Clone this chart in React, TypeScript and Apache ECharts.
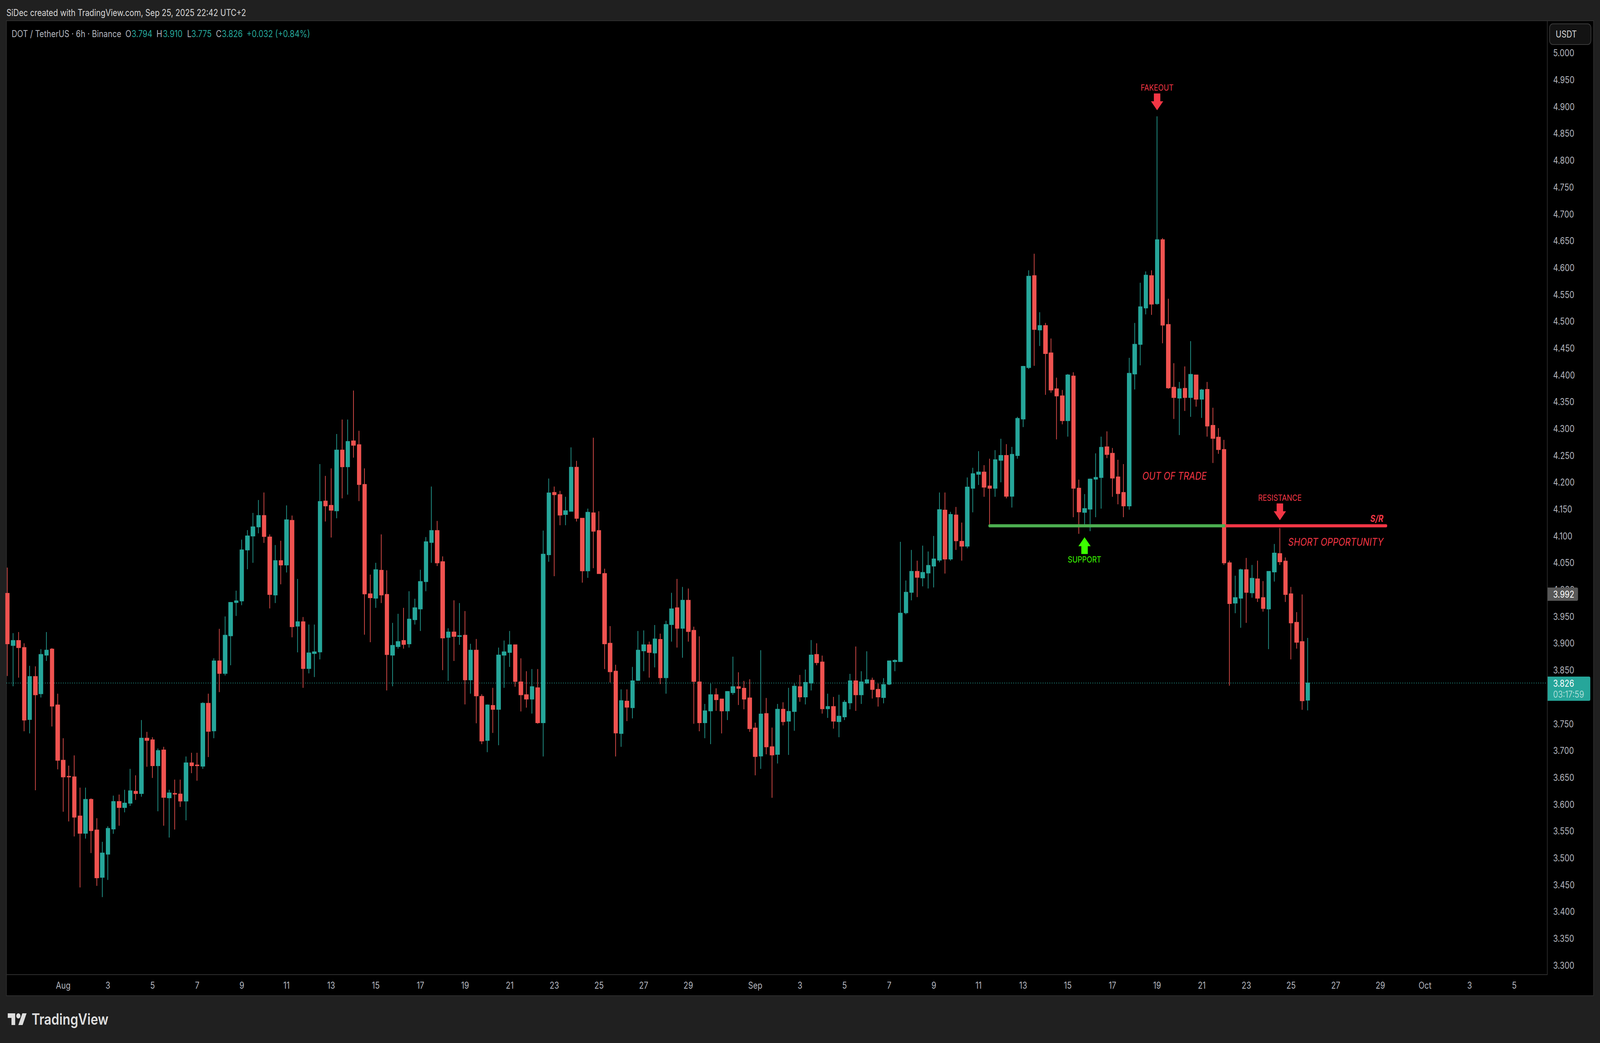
import { useEffect, useRef } from 'react';
import * as echarts from 'echarts';

const opens = [
  3.993, 3.896, 3.905, 3.892, 3.758, 3.838, 3.806, 3.878, 3.889, 3.785,
  3.682, 3.652, 3.651, 3.578, 3.546, 3.609, 3.552, 3.464, 3.507, 3.554,
  3.605, 3.594, 3.602, 3.624, 3.620, 3.723, 3.720, 3.672, 3.701, 3.612,
  3.620, 3.619, 3.606, 3.677, 3.673, 3.671, 3.788, 3.737, 3.867, 3.844,
  3.914, 3.976, 3.979, 4.074, 4.100, 4.117, 4.138, 4.098, 3.990, 4.054,
  4.046, 4.129, 3.932, 3.940, 3.853, 3.881, 3.884, 4.165, 4.157, 4.147,
  4.260, 4.229, 4.277, 4.270, 4.196, 3.992, 3.984, 4.036, 3.991, 3.878,
  3.894, 3.905, 3.899, 3.944, 3.964, 4.015, 4.088, 4.110, 4.052, 3.911,
  3.921, 3.913, 3.915, 3.832, 3.887, 3.801, 3.719, 3.784, 3.777, 3.878,
  3.883, 3.897, 3.828, 3.804, 3.796, 3.817, 3.752, 4.065, 4.181, 4.177,
  4.140, 4.146, 4.228, 4.133, 4.035, 4.143, 4.110, 4.030, 3.900, 3.848,
  3.732, 3.792, 3.780, 3.831, 3.886, 3.897, 3.882, 3.907, 3.836, 3.935,
  3.966, 3.928, 3.980, 3.924, 3.828, 3.752, 3.774, 3.804, 3.796, 3.774,
  3.808, 3.819, 3.816, 3.798, 3.742, 3.690, 3.769, 3.707, 3.693, 3.777,
  3.755, 3.773, 3.819, 3.800, 3.826, 3.879, 3.865, 3.778, 3.782, 3.754,
  3.763, 3.789, 3.830, 3.804, 3.826, 3.831, 3.814, 3.799, 3.824, 3.866,
  3.866, 3.957, 3.995, 4.034, 4.022, 4.031, 4.044, 4.055, 4.148, 4.057,
  4.139, 4.090, 4.081, 4.189, 4.215, 4.219, 4.193, 4.189, 4.241, 4.250,
  4.174, 4.250, 4.318, 4.414, 4.585, 4.484, 4.492, 4.441, 4.374, 4.361,
  4.315, 4.398, 4.189, 4.144, 4.150, 4.206, 4.209, 4.266, 4.254, 4.210,
  4.181, 4.156, 4.402, 4.457, 4.525, 4.585, 4.533, 4.652, 4.494, 4.377,
  4.357, 4.375, 4.358, 4.400, 4.355, 4.373, 4.306, 4.284, 4.261, 4.050,
  3.975, 3.984, 4.037, 3.994, 4.020, 3.985, 3.964, 4.033, 4.067, 4.053,
  3.992, 3.939, 3.903, 3.794,
];

const closes = [
  3.899, 3.905, 3.892, 3.757, 3.838, 3.804, 3.879, 3.887, 3.783, 3.682,
  3.651, 3.651, 3.576, 3.546, 3.609, 3.551, 3.463, 3.509, 3.555, 3.605,
  3.594, 3.602, 3.625, 3.620, 3.723, 3.719, 3.672, 3.700, 3.613, 3.621,
  3.619, 3.606, 3.677, 3.672, 3.672, 3.788, 3.736, 3.867, 3.844, 3.915,
  3.976, 3.979, 4.074, 4.100, 4.117, 4.138, 4.099, 3.991, 4.054, 4.046,
  4.130, 3.931, 3.940, 3.853, 3.882, 3.884, 4.164, 4.156, 4.148, 4.260,
  4.229, 4.276, 4.269, 4.196, 3.992, 3.985, 4.037, 3.990, 3.879, 3.896,
  3.903, 3.898, 3.945, 3.966, 4.015, 4.089, 4.110, 4.050, 3.910, 3.921,
  3.913, 3.914, 3.832, 3.887, 3.802, 3.718, 3.785, 3.777, 3.878, 3.884,
  3.897, 3.829, 3.804, 3.796, 3.819, 3.752, 4.066, 4.180, 4.177, 4.139,
  4.147, 4.228, 4.133, 4.035, 4.144, 4.109, 4.030, 3.899, 3.847, 3.733,
  3.793, 3.781, 3.830, 3.887, 3.897, 3.883, 3.908, 3.836, 3.935, 3.964,
  3.928, 3.980, 3.922, 3.829, 3.752, 3.774, 3.804, 3.795, 3.774, 3.810,
  3.819, 3.816, 3.796, 3.741, 3.689, 3.768, 3.707, 3.692, 3.777, 3.754,
  3.773, 3.820, 3.800, 3.827, 3.878, 3.864, 3.778, 3.782, 3.755, 3.764,
  3.790, 3.830, 3.804, 3.828, 3.832, 3.814, 3.800, 3.823, 3.867, 3.868,
  3.956, 3.995, 4.034, 4.023, 4.032, 4.045, 4.057, 4.149, 4.057, 4.140,
  4.091, 4.081, 4.191, 4.216, 4.219, 4.191, 4.189, 4.242, 4.250, 4.174,
  4.252, 4.319, 4.416, 4.584, 4.485, 4.492, 4.440, 4.372, 4.361, 4.315,
  4.400, 4.189, 4.145, 4.151, 4.206, 4.209, 4.265, 4.252, 4.208, 4.179,
  4.156, 4.403, 4.457, 4.527, 4.586, 4.532, 4.652, 4.493, 4.376, 4.358,
  4.374, 4.358, 4.401, 4.355, 4.372, 4.305, 4.282, 4.261, 4.050, 3.974,
  3.985, 4.037, 3.995, 4.021, 3.984, 3.965, 4.034, 4.068, 4.052, 3.991,
  3.938, 3.902, 3.793, 3.826,
];

const highs = [
  4.041, 3.919, 3.921, 3.900, 3.858, 3.857, 3.889, 3.921, 3.891, 3.806,
  3.723, 3.672, 3.691, 3.631, 3.631, 3.611, 3.574, 3.530, 3.559, 3.616,
  3.618, 3.627, 3.666, 3.654, 3.757, 3.735, 3.725, 3.704, 3.707, 3.627,
  3.646, 3.646, 3.689, 3.696, 3.696, 3.790, 3.806, 3.872, 3.927, 3.950,
  3.977, 3.998, 4.093, 4.111, 4.143, 4.167, 4.181, 4.103, 4.083, 4.091,
  4.157, 4.138, 4.020, 3.949, 3.935, 3.935, 4.234, 4.212, 4.226, 4.290,
  4.317, 4.317, 4.371, 4.296, 4.226, 4.028, 4.050, 4.103, 4.036, 3.938,
  3.955, 3.966, 3.997, 3.983, 4.037, 4.098, 4.192, 4.128, 4.062, 3.928,
  3.980, 3.975, 3.960, 3.899, 3.908, 3.805, 3.786, 3.817, 3.892, 3.905,
  3.923, 3.897, 3.872, 3.848, 3.852, 3.852, 4.110, 4.207, 4.192, 4.184,
  4.173, 4.265, 4.240, 4.133, 4.151, 4.283, 4.146, 4.039, 3.932, 3.860,
  3.814, 3.814, 3.856, 3.923, 3.924, 3.903, 3.934, 3.918, 3.942, 3.994,
  4.020, 4.005, 4.002, 3.931, 3.913, 3.787, 3.825, 3.816, 3.796, 3.811,
  3.875, 3.846, 3.830, 3.833, 3.752, 3.887, 3.798, 3.743, 3.787, 3.790,
  3.817, 3.825, 3.841, 3.851, 3.906, 3.900, 3.877, 3.806, 3.800, 3.804,
  3.794, 3.843, 3.894, 3.848, 3.885, 3.836, 3.825, 3.835, 3.868, 3.870,
  4.089, 4.017, 4.074, 4.054, 4.082, 4.071, 4.100, 4.181, 4.181, 4.145,
  4.154, 4.125, 4.209, 4.227, 4.258, 4.232, 4.244, 4.260, 4.281, 4.271,
  4.266, 4.322, 4.417, 4.595, 4.626, 4.517, 4.497, 4.468, 4.395, 4.372,
  4.402, 4.405, 4.205, 4.178, 4.207, 4.254, 4.285, 4.295, 4.264, 4.242,
  4.234, 4.432, 4.497, 4.572, 4.593, 4.595, 4.882, 4.655, 4.542, 4.422,
  4.387, 4.416, 4.463, 4.400, 4.374, 4.387, 4.339, 4.301, 4.279, 4.054,
  4.026, 4.039, 4.059, 4.046, 4.054, 4.016, 4.034, 4.085, 4.115, 4.060,
  4.005, 3.958, 3.991, 3.910,
];

const lows = [
  3.839, 3.820, 3.836, 3.736, 3.732, 3.626, 3.799, 3.867, 3.745, 3.665,
  3.586, 3.568, 3.540, 3.445, 3.536, 3.509, 3.448, 3.427, 3.459, 3.545,
  3.560, 3.585, 3.597, 3.608, 3.614, 3.670, 3.649, 3.587, 3.560, 3.538,
  3.553, 3.595, 3.570, 3.658, 3.644, 3.666, 3.688, 3.723, 3.809, 3.840,
  3.859, 3.951, 3.971, 4.038, 4.050, 4.105, 4.087, 3.965, 3.975, 4.010,
  4.032, 3.911, 3.883, 3.817, 3.844, 3.837, 3.870, 4.127, 4.097, 4.133,
  4.170, 4.177, 4.246, 4.165, 3.916, 3.902, 3.966, 3.975, 3.812, 3.820,
  3.890, 3.890, 3.892, 3.935, 3.923, 3.997, 4.050, 4.044, 3.850, 3.830,
  3.867, 3.897, 3.786, 3.806, 3.751, 3.712, 3.697, 3.733, 3.710, 3.817,
  3.856, 3.819, 3.773, 3.780, 3.769, 3.750, 3.689, 4.052, 4.025, 4.120,
  4.120, 4.146, 4.127, 4.013, 4.022, 4.040, 4.030, 3.852, 3.827, 3.689,
  3.707, 3.755, 3.760, 3.830, 3.848, 3.836, 3.855, 3.824, 3.806, 3.903,
  3.892, 3.873, 3.903, 3.750, 3.736, 3.723, 3.712, 3.774, 3.732, 3.757,
  3.804, 3.785, 3.777, 3.735, 3.654, 3.666, 3.693, 3.612, 3.676, 3.747,
  3.692, 3.737, 3.791, 3.786, 3.812, 3.859, 3.769, 3.761, 3.741, 3.725,
  3.757, 3.777, 3.774, 3.787, 3.824, 3.797, 3.782, 3.788, 3.822, 3.848,
  3.865, 3.954, 3.980, 3.986, 4.006, 4.002, 4.004, 4.051, 4.030, 4.054,
  4.074, 4.054, 4.077, 4.144, 4.195, 4.173, 4.122, 4.173, 4.200, 4.170,
  4.153, 4.244, 4.303, 4.411, 4.417, 4.454, 4.363, 4.367, 4.280, 4.308,
  4.285, 4.135, 4.104, 4.118, 4.109, 4.135, 4.151, 4.245, 4.173, 4.159,
  4.135, 4.149, 4.373, 4.418, 4.513, 4.512, 4.531, 4.459, 4.374, 4.318,
  4.288, 4.333, 4.322, 4.341, 4.320, 4.285, 4.236, 4.253, 4.046, 3.821,
  3.956, 3.929, 3.938, 3.985, 3.977, 3.959, 3.889, 4.015, 4.046, 3.977,
  3.870, 3.890, 3.776, 3.775,
];

// day labels and the candle slot each one sits on (4 candles a day, Aug 1 is slot 10)
const dayLabels = [
  'Aug', '3', '5', '7', '9', '11', '13', '15', '17', '19', '21', '23', '25', '27', '29',
  'Sep', '3', '5', '7', '9', '11', '13', '15', '17', '19', '21', '23', '25', '27', '29',
  'Oct', '3', '5',
];
const daySlots = [
  10, 18, 26, 34, 42, 50, 58, 66, 74, 82, 90, 98, 106, 114, 122,
  134, 142, 150, 158, 166, 174, 182, 190, 198, 206, 214, 222, 230, 238, 246,
  254, 262, 270,
];

// 3.800 is not listed: the last price tag covers it
const priceTicks = [
  5.0, 4.95, 4.9, 4.85, 4.8, 4.75, 4.7, 4.65, 4.6, 4.55, 4.5, 4.45, 4.4, 4.35, 4.3, 4.25, 4.2, 4.15,
  4.1, 4.05, 4.0, 3.95, 3.9, 3.85, 3.75, 3.7, 3.65, 3.6, 3.55, 3.5, 3.45, 3.4, 3.35, 3.3,
];

const lastPrice = 3.826;
const srLevel = 4.119;
const supportSpan = [176, 218];
const resistanceSpan = [218, 247];

const redArrows = [
  { name: 'FAKEOUT', value: [206, 4.909] },
  { name: 'RESISTANCE', value: [228, 4.145] },
];
const greenArrows = [{ name: 'SUPPORT', value: [193, 4.082] }];

const UP = '#26a69a';
const DOWN = '#ef5350';
const RED = '#f23645';
const LIME = '#3cff00';
const GRAY = '#b2b5be';
const FRAME = '#2e2e2e';
const PAGE = '#202020';
const FONT = 'Inter';

// the layout below is measured on a 4950x2670 page
const PAGE_W = 4950;
const PAGE_H = 2670;

// candle slots at the left and right edge of the plot
const xMin = -0.174;
const xMax = 275.92;

const downArrow = 'path://M9 0H29V20H38L19 43L0 20H9Z';
const upArrow = 'path://M19 0L38 23H29V43H9V23H0Z';

const logoPath =
  'M14 22H7V11H0V4h14v18zM28 22h-8l7.5-18h8L28 22zM20 4a4 4 0 1 0 0 8a4 4 0 1 0 0-8z';
echarts.graphic.registerShape('logo', echarts.graphic.extendPath(logoPath, {}));

const text = (value: string, x: number, y: number, fill: string, extra: object = {}) => ({
  type: 'text',
  z: 100,
  style: {
    text: value,
    x,
    y,
    fill,
    fontFamily: FONT,
    fontSize: 24,
    verticalAlign: 'middle',
    ...extra,
  },
});

export default function App() {
  const chartRef = useRef<HTMLDivElement>(null);

  useEffect(() => {
    if (!chartRef.current) return;
    const chart = echarts.init(chartRef.current, null, { renderer: 'svg' });

    chart.setOption({
      animation: false,
      backgroundColor: PAGE,
      grid: { left: 20, top: 53, width: 4767, height: 2441.7 },
      xAxis: {
        type: 'value',
        min: xMin,
        max: xMax,
        splitLine: { show: false },
        axisLine: { show: true, onZero: false, lineStyle: { color: FRAME, width: 2 } },
        axisTick: { show: false },
        axisLabel: {
          customValues: daySlots,
          formatter: (v: number) => dayLabels[daySlots.indexOf(v)] ?? '',
          color: GRAY,
          fontFamily: FONT,
          fontSize: 24,
          margin: 16,
        },
      },
      yAxis: {
        type: 'value',
        position: 'right',
        min: 3.2827,
        max: 5.0602,
        splitLine: { show: false },
        axisLine: { show: true, onZero: false, lineStyle: { color: FRAME, width: 2 } },
        axisTick: { show: false },
        axisLabel: {
          customValues: priceTicks,
          formatter: (v: number) => v.toFixed(3),
          color: GRAY,
          fontFamily: FONT,
          fontSize: 24,
          margin: 18,
          align: 'left',
        },
      },
      series: [
        {
          type: 'line',
          z: 1,
          silent: true,
          symbol: 'none',
          data: [
            [xMin, lastPrice],
            [xMax, lastPrice],
          ],
          lineStyle: { color: UP, width: 2, type: [2, 5] },
        },
        {
          type: 'candlestick',
          z: 2,
          barWidth: 12,
          encode: { x: 0, y: [1, 2, 3, 4] },
          data: opens.map((o, i) => [i, o, closes[i], lows[i], highs[i]]),
          itemStyle: {
            color: UP,
            color0: DOWN,
            borderColor: UP,
            borderColor0: DOWN,
            borderWidth: 2,
          },
        },
        {
          type: 'line',
          z: 4,
          silent: true,
          symbol: 'none',
          data: resistanceSpan.map((x) => [x, srLevel]),
          lineStyle: { color: RED, width: 8, cap: 'round' },
        },
        {
          type: 'line',
          z: 5,
          silent: true,
          symbol: 'none',
          data: supportSpan.map((x) => [x, srLevel]),
          lineStyle: { color: '#4caf50', width: 8, cap: 'round' },
        },
        {
          type: 'scatter',
          z: 6,
          silent: true,
          symbol: downArrow,
          symbolSize: [38, 43],
          data: redArrows,
          itemStyle: { color: RED, opacity: 1 },
          label: {
            show: true,
            position: 'top',
            distance: 4,
            formatter: '{b}',
            color: RED,
            fontFamily: FONT,
            fontSize: 22,
          },
        },
        {
          type: 'scatter',
          z: 6,
          silent: true,
          symbol: upArrow,
          symbolSize: [38, 43],
          data: greenArrows,
          itemStyle: { color: LIME, opacity: 1 },
          label: {
            show: true,
            position: 'bottom',
            distance: 3,
            formatter: '{b}',
            color: LIME,
            fontFamily: FONT,
            fontSize: 22,
          },
        },
      ],
      graphic: [
        {
          type: 'rect',
          z: -10,
          shape: { x: 20, y: 53, width: 4910, height: 2496 },
          style: { fill: '#000', stroke: FRAME, lineWidth: 2 },
        },
        text('SiDec created with TradingView.com, Sep 25, 2025 22:42 UTC+2', 20, 32, '#d6d6d6'),
        text('DOT / TetherUS · 6h · Binance', 36, 86, GRAY),
        text('O', 388, 86, GRAY),
        text('3.794', 407, 86, UP),
        text('H', 484, 86, GRAY),
        text('3.910', 504, 86, UP),
        text('L', 579, 86, GRAY),
        text('3.775', 592, 86, UP),
        text('C', 668, 86, GRAY),
        text('3.826', 686, 86, UP),
        text('+0.032 (+0.84%)', 763, 86, UP),
        {
          type: 'rect',
          z: 99,
          shape: { x: 4794, y: 61, width: 128, height: 53, r: 10 },
          style: { fill: '#131313', stroke: '#3a3a3a', lineWidth: 2 },
        },
        text('USDT', 4813, 87, '#d8d8d8'),
        {
          type: 'rect',
          z: 99,
          shape: { x: 4788, y: 1504, width: 94, height: 34, r: [0, 4, 4, 0] },
          style: { fill: '#585858' },
        },
        text('3.992', 4805, 1521, '#fff'),
        {
          type: 'rect',
          z: 99,
          shape: { x: 4788, y: 1732, width: 132, height: 62, r: [0, 4, 4, 0] },
          style: { fill: UP },
        },
        text('3.826', 4805, 1749, '#fff'),
        text('03:17:59', 4805, 1777, '#a8dcd6'),
        text('OUT OF TRADE', 3534, 1218, RED, { fontStyle: 'italic', fontSize: 27 }),
        text('SHORT OPPORTUNITY', 4280, 1387, RED, { fontStyle: 'italic', fontSize: 27, align: 'right' }),
        text('S/R', 4280, 1327, RED, { fontStyle: 'italic', fontWeight: 'bold', fontSize: 24, align: 'right' }),
        {
          type: 'logo',
          z: 100,
          x: 24,
          y: 2587.3,
          scaleX: 1.64,
          scaleY: 1.667,
          style: { fill: '#dedede' },
        },
        text('TradingView', 98, 2609, '#dedede', { fontSize: 39, fontWeight: 600 }),
      ],
    });

    return () => chart.dispose();
  }, []);

  // the window can come out narrower than asked for, so fit the page to whatever it really is
  const fit = `scale(${window.innerWidth / PAGE_W}, ${window.innerHeight / PAGE_H})`;

  return (
    <div
      ref={chartRef}
      style={{
        position: 'fixed',
        left: 0,
        top: 0,
        width: PAGE_W,
        height: PAGE_H,
        transform: fit,
        transformOrigin: '0 0',
      }}
    />
  );
}
